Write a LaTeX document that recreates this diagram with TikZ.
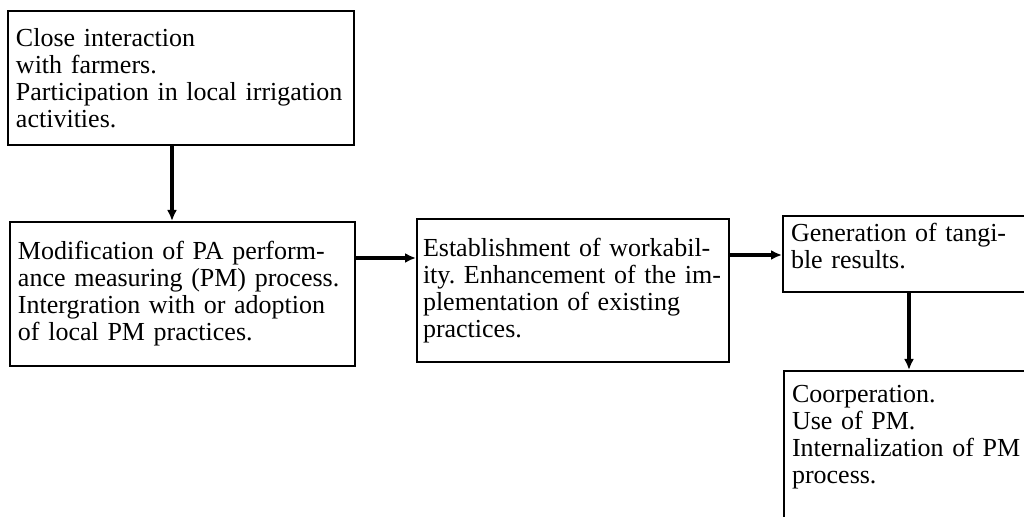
\documentclass[tikz,border=0pt]{standalone}
\usepackage{fontspec}
\setmainfont{Liberation Serif}
\usetikzlibrary{arrows.meta}

\begin{document}
\begin{tikzpicture}[x=0.5pt,y=-0.5pt,
  box/.style={draw,line width=1pt,anchor=north west,align=left,inner xsep=4pt,
    font=\fontsize{13}{13.5}\selectfont\frenchspacing},
  flow/.style={line width=1.6pt,-{Latex[length=5.5pt,width=5pt]}}]
\useasboundingbox (0,0) rectangle (1024,517);
\clip (0,0) rectangle (1024,517);
\node[box,text width=165pt,minimum height=67pt] (contact) at (7,10)
  {Close interaction\\with farmers.\\Participation in local irrigation\\activities.};
\node[box,text width=164.5pt,minimum height=72pt] (modify) at (9,221)
  {Modification of PA perform-\\ance measuring (PM) process.\\Intergration with or adoption\\of local PM practices.};
\node[box,inner xsep=3pt,text width=150pt,minimum height=71.5pt] (work) at (416,218)
  {Establishment of workabil-\\ity. Enhancement of the im-\\plementation of existing\\practices.};
\node[box,text width=150pt,inner ysep=3.5pt] (result) at (782,215)
  {Generation of tangi-\\ble results.\\[-5.4pt]~};
\node[box,text width=150pt,inner ysep=7pt] (coop) at (783,370)
  {Coorperation.\\Use of PM.\\Internalization of PM\\process.\\[20pt]~};
% where the connectors run
\coordinate (xa) at (172,0);
\coordinate (yb) at (0,258);
\coordinate (yc) at (0,255);
\coordinate (xd) at (909,0);
\draw[flow] (contact.south -| xa) -- (modify.north -| xa);
\draw[flow] (modify.east |- yb) -- (work.west |- yb);
\draw[flow] (work.east |- yc) -- (result.west |- yc);
\draw[flow] (result.south -| xd) -- (coop.north -| xd);
\end{tikzpicture}
\end{document}
